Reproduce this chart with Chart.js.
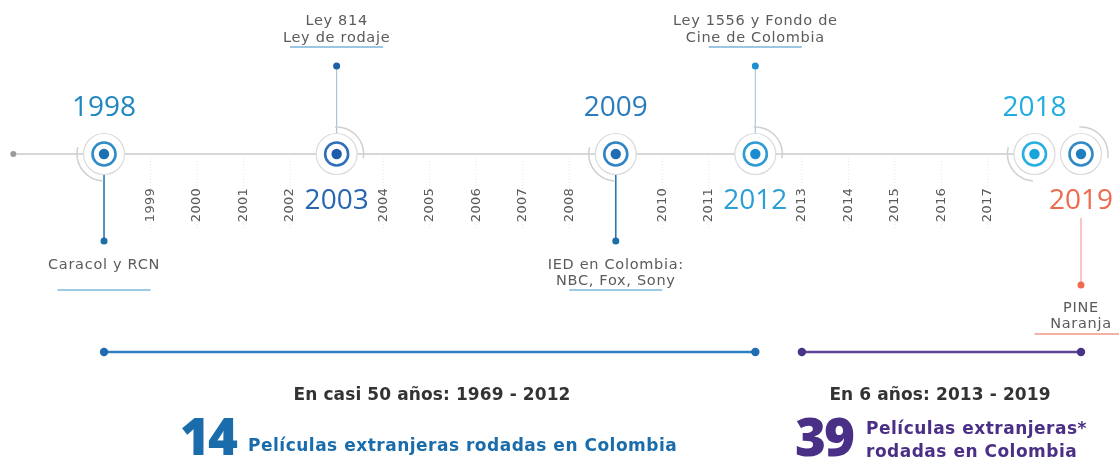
<!DOCTYPE html>
<html lang="es">
<head>
<meta charset="utf-8">
<title>Películas extranjeras rodadas en Colombia</title>
<script src="https://cdn.jsdelivr.net/npm/chart.js@4/dist/chart.umd.min.js"></script>
<style>
  html, body { margin: 0; padding: 0; background: #ffffff; }
  #wrap { width: 1119px; height: 462px; }
</style>
</head>
<body>
<div id="wrap"><canvas id="timeline" width="1119" height="462"></canvas></div>
<script>
// ---- Data -------------------------------------------------------------
const eventYears = [1998, 2003, 2009, 2012, 2018, 2019];
const eventNotes = [
  ['Caracol y RCN'],
  ['Ley 814', 'Ley de rodaje'],
  ['IED en Colombia:', 'NBC, Fox, Sony'],
  ['Ley 1556 y Fondo de', 'Cine de Colombia'],
  [],
  ['PINE', 'Naranja']
];
const tickYears = [1999, 2000, 2001, 2002, 2004, 2005, 2006, 2007, 2008,
                   2010, 2011, 2013, 2014, 2015, 2016, 2017];
const periodStart = [1998, 2013];
const periodEnd = [2012, 2019];
const periodTitles = ['En casi 50 años: 1969 - 2012', 'En 6 años: 2013 - 2019'];
const filmCounts = [14, 39];
const filmCaptions = [
  ['Películas extranjeras rodadas en Colombia'],
  ['Películas extranjeras*', 'rodadas en Colombia']
];
const timelineStart = 1996.05;

// ---- Layout & style ----------------------------------------------------
const Y = { axis: 154, stemUp: 66, stemDown: 241, stemPine: 285, period: 352 };
const yearSide = ['above', 'below', 'above', 'below', 'above', 'below'];
const yearColor = ['#1f86c1', '#2767b1', '#2a7cbd', '#2b9fd6', '#22ade0', '#ef6a4f'];
const dotColor = ['#1b6fb3', '#1d5cab', '#1d6db5', '#1a8ccf', '#16a4db', '#1f7ec0'];
const ringColor = ['#2f8cc6', '#3170b8', '#3084c3', '#2e9bd5', '#2ab0e0', '#3189c6'];
const arcSide = ['low', 'high', 'low', 'high', 'low', 'high'];
// note placement: stem direction, end of stem, first text line, line gap, underline
const noteStyle = [
  { from: Y.axis, to: Y.stemDown, text: 265, gap: 16, under: 290, line: '#2a78b2', lw: 1.6, dot: '#1d6ea8', uline: '#9dcbe6' },
  { from: Y.axis, to: Y.stemUp, text: 21, gap: 17.5, under: 47, line: '#a9bfd1', lw: 1.1, dot: '#1d5fa8', uline: '#9dc6e2' },
  { from: Y.axis, to: Y.stemDown, text: 265, gap: 16, under: 290, line: '#2a78b2', lw: 1.6, dot: '#1d6ea8', uline: '#9dcbe6' },
  { from: Y.axis, to: Y.stemUp, text: 21, gap: 17.5, under: 47, line: '#a9c4d8', lw: 1.1, dot: '#1d8fcf', uline: '#9dc6e2' },
  null,
  { from: 218, to: Y.stemPine, text: 308, gap: 16, under: 334, line: '#f5a999', lw: 1.3, dot: '#ef6a4f', uline: '#f3b2a4' }
];
const periodColor = ['#2f7dbd', '#5e4397'];
const periodDot = ['#1f6db0', '#4a3387'];
const countColor = ['#1a6cab', '#4a2f86'];

const seg = (x0, x1, y0, y1) => [{ x: x0, y: y0 }, { x: x1, y: y1 }];

const datasets = [];

// main axis line with its starting dot
datasets.push({
  type: 'line', order: 20, data: seg(timelineStart, eventYears[4], Y.axis, Y.axis),
  borderColor: '#d7d7d7', borderWidth: 2, pointRadius: [3, 0],
  pointBackgroundColor: '#9a9a9a', pointBorderWidth: 0
});

// faint dotted year guides
tickYears.forEach(yr => datasets.push({
  type: 'line', order: 19, data: seg(yr, yr, Y.axis + 4, 228),
  borderColor: '#e6e6e6', borderWidth: 1, borderDash: [1, 2], pointRadius: 0
}));

// note stems, end dots and underlines
eventYears.forEach((yr, i) => {
  const s = noteStyle[i];
  if (!s) return;
  datasets.push({
    type: 'line', order: 15, data: seg(yr, yr, s.from, s.to),
    borderColor: s.line, borderWidth: s.lw,
    pointRadius: [0, 3.5], pointBackgroundColor: s.dot, pointBorderWidth: 0
  });
  const right = Math.min(yr + 1, 2019.82);
  datasets.push({
    type: 'line', order: 15, data: seg(yr - 1, right, s.under, s.under),
    borderColor: s.uline, borderWidth: 1.8, pointRadius: 0
  });
});

// period bars
periodStart.forEach((p, i) => datasets.push({
  type: 'line', order: 12, data: seg(p, periodEnd[i], Y.period, Y.period),
  borderColor: periodColor[i], borderWidth: 2.6,
  pointRadius: 4.2, pointBackgroundColor: periodDot[i], pointBorderWidth: 0
}));

// event markers: halo, ring, centre dot
const markerPts = eventYears.map(yr => ({ x: yr, y: Y.axis }));
datasets.push({
  type: 'scatter', order: 6, data: markerPts, pointRadius: 20.5,
  pointBackgroundColor: '#ffffff', pointBorderColor: '#dadada', pointBorderWidth: 1.2
});
datasets.push({
  type: 'scatter', order: 5, data: markerPts, pointRadius: 11.5,
  pointBackgroundColor: '#ffffff', pointBorderColor: ringColor, pointBorderWidth: 2.6
});
datasets.push({
  type: 'scatter', order: 4, data: markerPts, pointRadius: 5.2,
  pointBackgroundColor: dotColor, pointBorderWidth: 0
});

datasets.forEach(d => { d.clip = false; d.fill = false; d.tension = 0; });

// ---- Texts and decorative arcs ----------------------------------------
const FONT = '"DejaVu Sans", sans-serif';
const FONT_NUM = '"Open Sans", sans-serif';

function txt(ctx, s, x, y, font, color, spacing) {
  ctx.font = font;
  ctx.fillStyle = color;
  ctx.letterSpacing = (spacing || 0) + 'px';
  ctx.fillText(s, x, y);
  ctx.letterSpacing = '0px';
}

const timelineDecor = {
  id: 'timelineDecor',
  afterDatasetsDraw(chart) {
    const ctx = chart.ctx;
    const xs = chart.scales.x, ys = chart.scales.y;
    const yAxis = ys.getPixelForValue(Y.axis);
    ctx.save();

    // outer partial arcs around the markers
    eventYears.forEach((yr, i) => {
      const cx = xs.getPixelForValue(yr);
      ctx.beginPath();
      if (arcSide[i] === 'low') ctx.arc(cx, yAxis, 27, Math.PI * 0.52, Math.PI * 1.08);
      else ctx.arc(cx, yAxis, 27, -Math.PI * 0.52, Math.PI * 0.05);
      ctx.strokeStyle = '#cfcfcf';
      ctx.lineWidth = 1.5;
      ctx.stroke();
    });

    ctx.textAlign = 'center';
    ctx.textBaseline = 'middle';

    // highlighted years
    eventYears.forEach((yr, i) => {
      const cx = xs.getPixelForValue(yr);
      const ty = ys.getPixelForValue(yearSide[i] === 'above' ? 108 : 201);
      txt(ctx, String(yr), cx, ty, '28px ' + FONT_NUM, yearColor[i]);
    });

    // rotated year ticks
    tickYears.forEach(yr => {
      ctx.save();
      ctx.translate(xs.getPixelForValue(yr), ys.getPixelForValue(205));
      ctx.rotate(-Math.PI / 2);
      txt(ctx, String(yr), 0, 0, '13px ' + FONT, '#5a5a5a', 0.3);
      ctx.restore();
    });

    // event notes
    eventYears.forEach((yr, i) => {
      const s = noteStyle[i];
      if (!s) return;
      const cx = xs.getPixelForValue(yr);
      eventNotes[i].forEach((line, k) => {
        txt(ctx, line, cx, ys.getPixelForValue(s.text + k * s.gap), '14.5px ' + FONT, '#5b5b5b', 0.7);
      });
    });

    // period headlines, centred over their bars
    const headCx = [432, 940];
    periodStart.forEach((p, i) => {
      txt(ctx, periodTitles[i], headCx[i], ys.getPixelForValue(396), 'bold 17px ' + FONT, '#333333', 0.1);
    });

    // film counts
    ctx.textAlign = 'left';
    txt(ctx, String(filmCounts[0]), 180, 440, '800 51px ' + FONT_NUM, countColor[0], -2);
    txt(ctx, filmCaptions[0][0], 248, 447, 'bold 17px ' + FONT, countColor[0], 0.5);
    txt(ctx, String(filmCounts[1]), 795, 441, '800 53px ' + FONT_NUM, countColor[1], -2);
    txt(ctx, filmCaptions[1][0], 866, 430, 'bold 17px ' + FONT, countColor[1], 0.5);
    txt(ctx, filmCaptions[1][1], 866, 453, 'bold 17px ' + FONT, countColor[1], 0.5);

    ctx.restore();
  }
};

new Chart(document.getElementById('timeline'), {
  type: 'scatter',
  data: { datasets },
  options: {
    responsive: false,
    animation: false,
    devicePixelRatio: 1,
    layout: { padding: 0, autoPadding: false },
    events: [],
    scales: {
      x: { type: 'linear', min: 1995.764, max: 2019.817, display: false },
      y: { type: 'linear', min: 0, max: 462, reverse: true, display: false }
    },
    plugins: { legend: { display: false }, tooltip: { enabled: false } }
  },
  plugins: [timelineDecor]
});
</script>
</body>
</html>
